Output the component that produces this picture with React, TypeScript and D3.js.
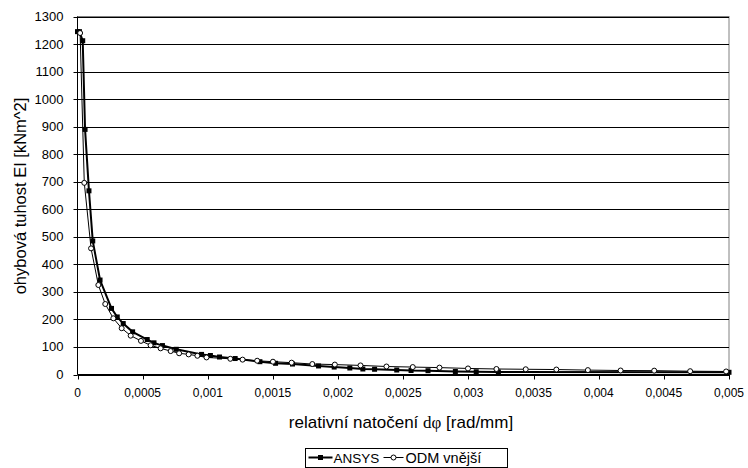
import React from "react";
import * as d3 from "d3";

const ansysX = [0, 0.000015, 0.00004, 0.000058, 0.000088, 0.000117, 0.000173, 0.000261, 0.000305, 0.000351, 0.000423, 0.000535, 0.000587, 0.000652, 0.000758, 0.000952, 0.00102, 0.00109, 0.00121, 0.0014, 0.00152, 0.00165, 0.00185, 0.00197, 0.00209, 0.00219, 0.00228, 0.00245, 0.00256, 0.00269, 0.0029, 0.00306, 0.00323, 0.005];
const ansysY = [1245, 1245, 1212, 890, 667, 485, 343, 240, 209, 185, 155, 127, 115, 105, 91.5, 73, 69, 63.5, 58, 46.5, 40.7, 38, 31, 27, 23.6, 20, 19, 16.3, 14.5, 13.8, 11, 10, 9, 8];

const odmX = [0.00002, 0.000052, 0.000104, 0.00016, 0.000213, 0.000275, 0.000339, 0.000408, 0.000487, 0.000561, 0.000638, 0.000715, 0.00078, 0.000853, 0.00092, 0.00099, 0.001173, 0.001267, 0.001379, 0.0015, 0.001643, 0.001802, 0.001975, 0.002172, 0.002371, 0.002573, 0.002778, 0.002997, 0.003215, 0.00344, 0.003675, 0.003917, 0.004168, 0.004426, 0.004702, 0.004978];
const odmY = [1240, 696, 458, 325, 256, 204, 168, 141, 122, 106, 95, 85, 77, 73, 68, 62, 57, 54, 50, 46.5, 43, 38, 36, 33, 29, 27, 25, 22, 20, 19, 18, 16, 14.5, 14, 12, 11];

const xTicks = [0, 0.0005, 0.001, 0.0015, 0.002, 0.0025, 0.003, 0.0035, 0.004, 0.0045, 0.005];
const yTicks = [0, 100, 200, 300, 400, 500, 600, 700, 800, 900, 1000, 1100, 1200, 1300];
const seriesNames = ["ANSYS", "ODM vnější"];

const W = 748, H = 468;
const left = 77.5, right = 729, top = 16.5, bottom = 374.5;

export default function App() {
  const x = d3.scaleLinear().domain([0, 0.005]).range([left, right]);
  const y = d3.scaleLinear().domain([0, 1300]).range([bottom, top]);
  const ansys = ansysX.map((v, i) => [v, ansysY[i]] as [number, number]);
  const odm = odmX.map((v, i) => [v, odmY[i]] as [number, number]);
  const line = d3.line<[number, number]>().x(d => x(d[0])).y(d => y(d[1]));
  const fmt = (v: number) => String(v).replace(".", ",");
  const font = "'Liberation Sans', Arial, sans-serif";
  const legX = 305.5, legY = 448.5;
  return (
    <svg width={W} height={H} style={{ position: "absolute", left: 0, top: 0, background: "#fff" }} fontFamily={font}>
      <rect x={0} y={0} width={W} height={H} fill="#fff" />
      <rect x={left} y={top} width={right - left} height={bottom - top} fill="none" stroke="#808080" strokeWidth={1} />
      {yTicks.map(t => (
        <line key={"g" + t} x1={left} x2={right} y1={Math.round(y(t)) + 0.5} y2={Math.round(y(t)) + 0.5} stroke="#000" strokeWidth={1} />
      ))}
      <line x1={left} x2={left} y1={top} y2={bottom} stroke="#000" />
      <line x1={left} x2={right} y1={bottom} y2={bottom} stroke="#000" />
      {yTicks.map(t => (
        <g key={"y" + t}>
          <line x1={left - 4} x2={left} y1={Math.round(y(t)) + 0.5} y2={Math.round(y(t)) + 0.5} stroke="#000" />
          <text x={left - 14} y={y(t) + 4.5} textAnchor="end" fontSize={13} fill="#000">{t}</text>
        </g>
      ))}
      {xTicks.map(t => (
        <g key={"x" + t}>
          <line x1={Math.round(x(t)) + 0.5} x2={Math.round(x(t)) + 0.5} y1={bottom} y2={bottom + 5} stroke="#000" />
          <text x={x(t)} y={bottom + 22} textAnchor="middle" fontSize={12} fill="#000">{fmt(t)}</text>
        </g>
      ))}
      <text transform={`translate(26,196) rotate(-90)`} textAnchor="middle" fontSize={16.5} fill="#000">ohybová tuhost EI [kNm^2]</text>
      <text x={401} y={428} textAnchor="middle" fontSize={17} fill="#000">
        relativní natočení <tspan fontFamily="'Liberation Serif', 'Times New Roman', serif">dφ</tspan> [rad/mm]
      </text>
      <path d={line(odm) || ""} fill="none" stroke="#000" strokeWidth={1} />
      <path d={line(ansys) || ""} fill="none" stroke="#000" strokeWidth={2} />
      {ansys.map((d, i) => (
        <rect key={"a" + i} x={x(d[0]) - 2.5} y={y(d[1]) - 2.5} width={5} height={5} fill="#000" />
      ))}
      {odm.map((d, i) => (
        <circle key={"o" + i} cx={x(d[0])} cy={y(d[1])} r={2.5} fill="#fff" stroke="#000" strokeWidth={1} />
      ))}
      <rect x={legX} y={legY} width={202} height={19} fill="#fff" stroke="#000" />
      <line x1={legX + 3} x2={legX + 27} y1={legY + 9} y2={legY + 9} stroke="#000" strokeWidth={2} />
      <rect x={legX + 12.5} y={legY + 6.5} width={5} height={5} fill="#000" />
      <text x={legX + 28} y={legY + 14} fontSize={13.5} fill="#000">{seriesNames[0]}</text>
      <line x1={legX + 78} x2={legX + 98} y1={legY + 9} y2={legY + 9} stroke="#000" strokeWidth={1} />
      <circle cx={legX + 88} cy={legY + 9} r={2.5} fill="#fff" stroke="#000" />
      <text x={legX + 100} y={legY + 14} fontSize={14.5} fill="#000">{seriesNames[1]}</text>
    </svg>
  );
}
